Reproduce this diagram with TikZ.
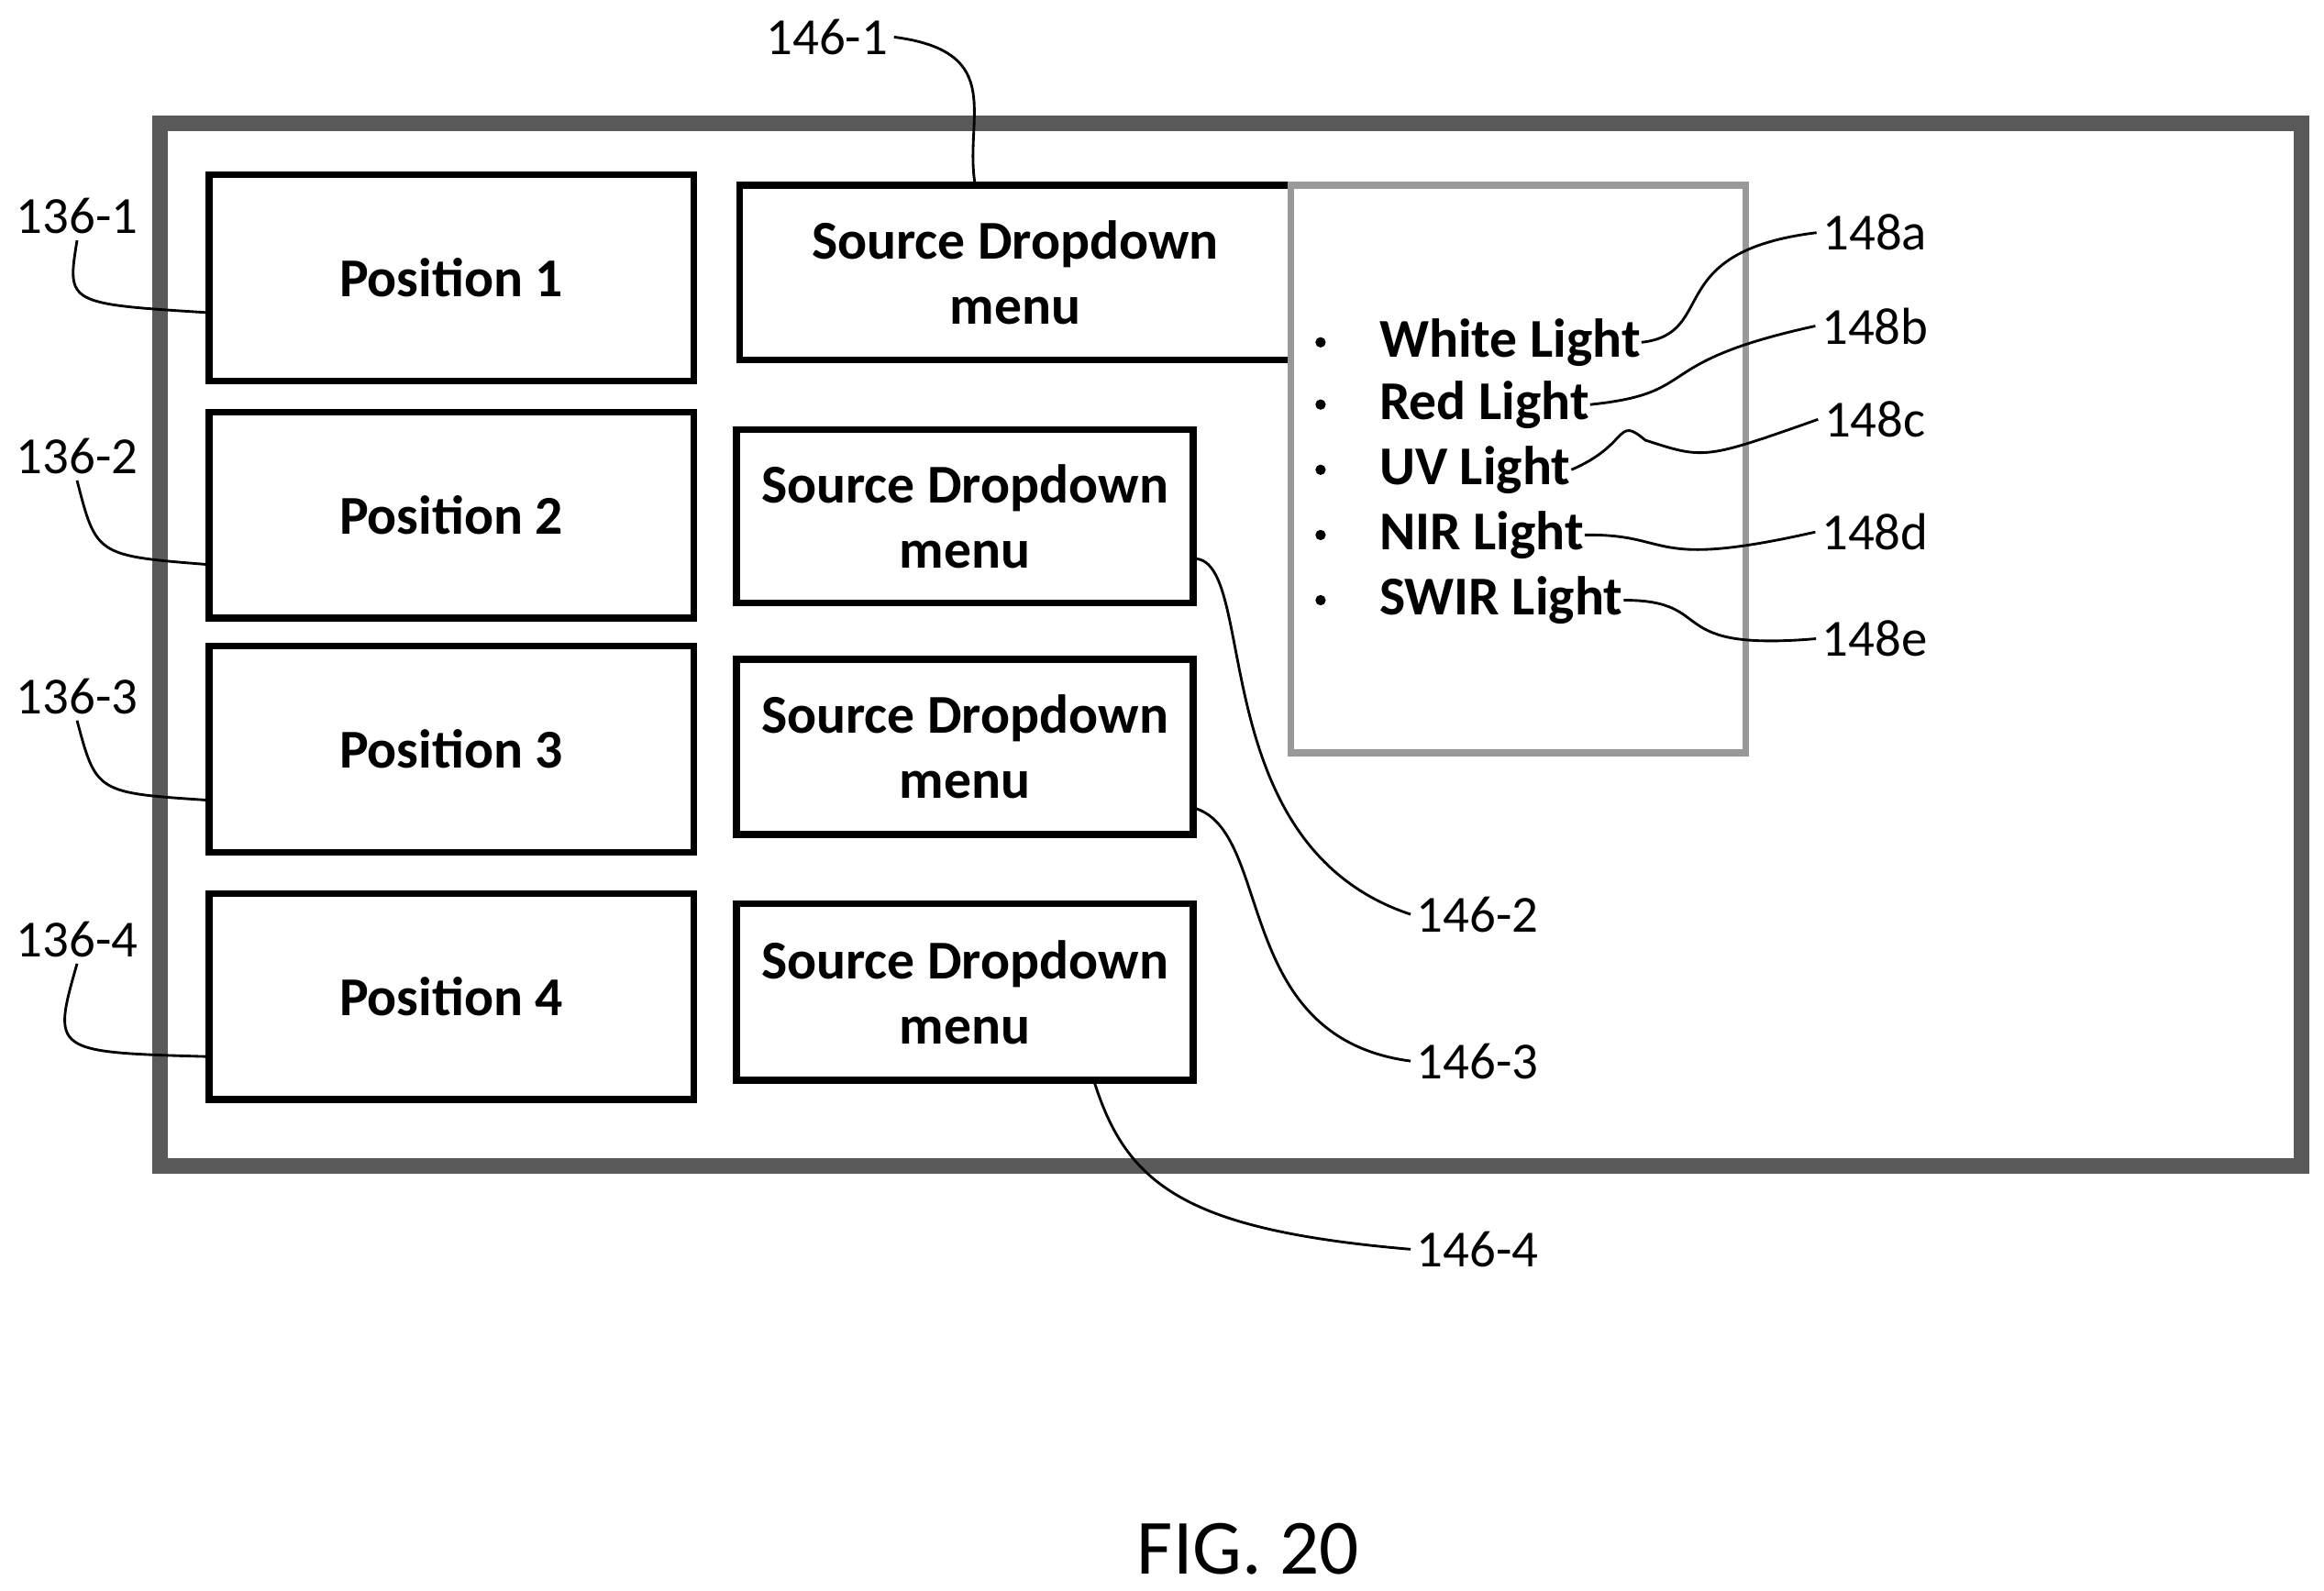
\documentclass[tikz,border=0pt]{standalone}
\usepackage{fontspec}
\setmainfont{Carlito}
\usetikzlibrary{positioning}

\tikzset{
  box/.style={draw=black, line width=1.3pt, align=center, font=\bfseries\fontsize{10.5}{12.5}\selectfont, inner sep=0pt},
  lbl/.style={font=\fontsize{10}{12}\selectfont, inner sep=1pt},
  lead/.style={draw=black, line width=0.5pt},
  item/.style={font=\bfseries\fontsize{10.5}{12.5}\selectfont, anchor=west, inner sep=0pt}
}

\begin{document}
\begin{tikzpicture}[x=0.01cm, y=-0.01cm]
   \useasboundingbox (0,0) rectangle (1568,1073);

   %% Rahmen
   \draw[line width=3pt, draw=gray!70!black] (108,83) rectangle (1553,787);

   %% Positionen
   \node[box, minimum width=327*0.01cm, minimum height=139*0.01cm] (pos1) at (304.5,187.5) {Position 1};
   \node[box, minimum width=327*0.01cm, minimum height=139*0.01cm] (pos2) at (304.5,347.5) {Position 2};
   \node[box, minimum width=327*0.01cm, minimum height=139*0.01cm] (pos3) at (304.5,505.5) {Position 3};
   \node[box, minimum width=327*0.01cm, minimum height=139*0.01cm] (pos4) at (304.5,672.5) {Position 4};

   %% Dropdowns
   \node[box, minimum width=372*0.01cm, minimum height=118*0.01cm] (src1) at (685,184) {Source Dropdown\\menu};
   \node[box, minimum width=308*0.01cm, minimum height=117*0.01cm] (src2) at (651,348.5) {Source Dropdown\\menu};
   \node[box, minimum width=308*0.01cm, minimum height=118*0.01cm] (src3) at (651,504) {Source Dropdown\\menu};
   \node[box, minimum width=308*0.01cm, minimum height=119*0.01cm] (src4) at (651,669.5) {Source Dropdown\\menu};

   %% Liste
   \draw[line width=1.3pt, draw=gray!80] (871,125) rectangle (1178,508);
   \foreach \y/\t/\n in {231/White Light/wl, 273/Red Light/rl, 317/UV Light/uv, 361/NIR Light/nir, 405/SWIR Light/swir} {
     \fill (891,\y) circle (3.5);
     \node[item] (\n) at (930,\y) {\t};
   }

   %% Bezugszeichen
   \node[lbl] (l1361) at (52,146) {136-1};
   \node[lbl] (l1362) at (52,308) {136-2};
   \node[lbl] (l1363) at (52,470) {136-3};
   \node[lbl] (l1364) at (52,634) {136-4};
   \node[lbl] (l1461) at (558,25) {146-1};
   \node[lbl] (l1462) at (997,617) {146-2};
   \node[lbl] (l1463) at (997,716) {146-3};
   \node[lbl] (l1464) at (997,843) {146-4};
   \node[lbl] (l148a) at (1265,157) {148a};
   \node[lbl] (l148b) at (1265,220) {148b};
   \node[lbl] (l148c) at (1265,283) {148c};
   \node[lbl] (l148d) at (1265,359) {148d};
   \node[lbl] (l148e) at (1265,431) {148e};

   \coordinate (p1) at (141,211);
   \coordinate (p2) at (141,381);
   \coordinate (p3) at (141,540);
   \coordinate (p4) at (141,713);
   \draw[lead] (l1361.south) .. controls (45,205) .. (p1);
   \draw[lead] (l1362.south) .. controls (65,375) .. (p2);
   \draw[lead] (l1363.south) .. controls (65,535) .. (p3);
   \draw[lead] (l1364.south) .. controls (35,710) .. (p4);

   \coordinate (q1) at (658,125);
   \coordinate (q2) at (805,377);
   \coordinate (q3) at (805,545);
   \coordinate (q4) at (738,729);
   \draw[lead] (l1461.east) .. controls (680,35) and (650,80) .. (q1);
   \draw[lead] (q2) .. controls (850,375) and (810,570) .. (l1462.west);
   \draw[lead] (q3) .. controls (860,560) and (830,700) .. (l1463.west);
   \draw[lead] (q4) .. controls (760,800) and (800,830) .. (l1464.west);

   \draw[lead] (wl.east) .. controls (1160,225) and (1120,170) .. (l148a.west);
   \draw[lead] (rl.east) .. controls (1150,265) and (1110,245) .. (l148b.west);
   \draw[lead] (uv.east) .. controls (1100,300) and (1090,280) .. (1110,297) .. controls (1150,310) .. (l148c.west);
   \draw[lead] (nir.east) .. controls (1130,360) and (1110,385) .. (l148d.west);
   \draw[lead] (swir.east) .. controls (1160,405) and (1120,440) .. (l148e.west);

   \node[font=\fontsize{15}{18}\selectfont] (fig) at (842,1045) {FIG. 20};
\end{tikzpicture}
\end{document}
